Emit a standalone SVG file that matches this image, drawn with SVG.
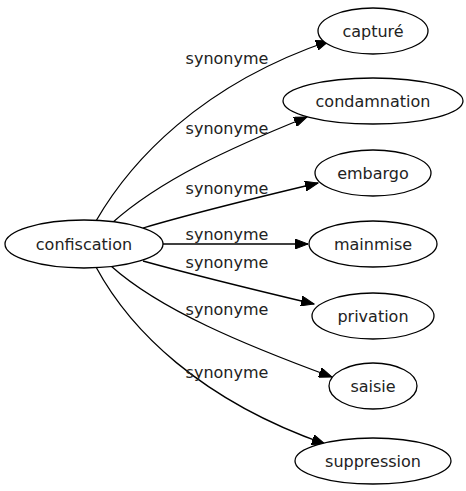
<svg xmlns="http://www.w3.org/2000/svg" width="466" height="491" viewBox="0 0 466 491">
<style>
.n ellipse{fill:#fff;stroke:#000;stroke-width:1.3}
.n text{font-family:"DejaVu Sans",sans-serif;font-size:16px;text-anchor:middle;fill:#222}
.e path{fill:none;stroke:#000;stroke-width:1.3;marker-end:url(#ah)}
.e text{font-family:"DejaVu Sans",sans-serif;font-size:16px;text-anchor:middle;fill:#222}
</style>
<defs>
<marker id="ah" markerUnits="userSpaceOnUse" markerWidth="14" markerHeight="10" refX="13" refY="5" orient="auto">
<path d="M0,0 L13,5 L0,10 Z" fill="#000" stroke="#000" stroke-width="1"/>
</marker>
</defs>
<g id="edges" class="e">
<path d="M96,221 C130,162 200,85 329,41"/>
<path d="M112,223 C160,180 230,148 307,117"/>
<path d="M143,228 C190,214 255,198 318,183"/>
<path d="M163,244 L308,244"/>
<path d="M143,261 C190,274 255,290 314,304"/>
<path d="M111,266 C160,310 245,345 332,377"/>
<path d="M96,267 C130,330 200,400 325,444"/>
<text x="227" y="64">synonyme</text>
<text x="227" y="134">synonyme</text>
<text x="227" y="194">synonyme</text>
<text x="227" y="240">synonyme</text>
<text x="227" y="268">synonyme</text>
<text x="227" y="315">synonyme</text>
<text x="227" y="378">synonyme</text>
</g>
<g id="confiscation" class="n"><ellipse cx="84" cy="244" rx="79" ry="24"/><text x="84" y="250">confiscation</text></g>
<g id="capture" class="n"><ellipse cx="373" cy="31" rx="55" ry="23"/><text x="373" y="37">capturé</text></g>
<g id="condamnation" class="n"><ellipse cx="373" cy="101" rx="90" ry="23"/><text x="373" y="107">condamnation</text></g>
<g id="embargo" class="n"><ellipse cx="373" cy="173" rx="58" ry="23"/><text x="373" y="179">embargo</text></g>
<g id="mainmise" class="n"><ellipse cx="373" cy="244" rx="64" ry="23"/><text x="373" y="250">mainmise</text></g>
<g id="privation" class="n"><ellipse cx="373" cy="316" rx="61" ry="23"/><text x="373" y="322">privation</text></g>
<g id="saisie" class="n"><ellipse cx="373" cy="386" rx="44" ry="23"/><text x="373" y="392">saisie</text></g>
<g id="suppression" class="n"><ellipse cx="373" cy="461" rx="78" ry="23"/><text x="373" y="467">suppression</text></g>
</svg>
